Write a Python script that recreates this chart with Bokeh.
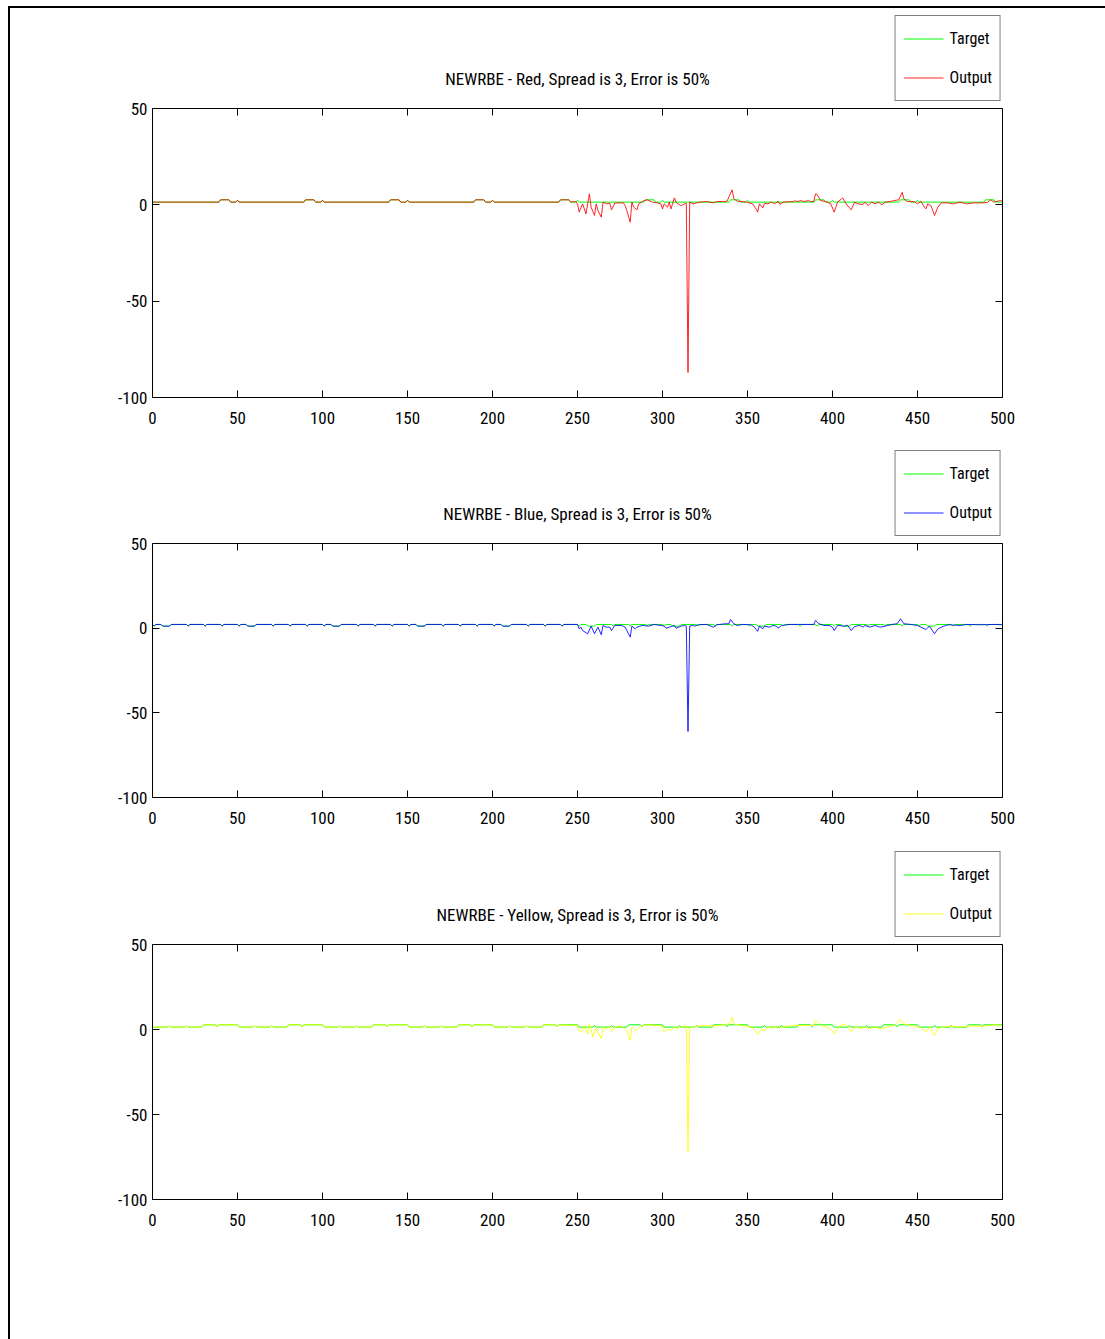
from bokeh.plotting import figure
from bokeh.models import (Range1d, LinearAxis, Div, Spacer,
                          FixedTicker, PrintfTickFormatter, Label)
from bokeh.layouts import column, row
from bokeh.embed import file_html
from bokeh.resources import INLINE

# ---------------------------------------------------------------- data
x_ticks = [0, 50, 100, 150, 200, 250, 300, 350, 400, 450, 500]
y_ticks = [-100, -50, 0, 50]

titles = [
    "NEWRBE - Red, Spread is 3, Error is 50%",
    "NEWRBE - Blue, Spread is 3, Error is 50%",
    "NEWRBE - Yellow, Spread is 3, Error is 50%",
]

# target signal of the red channel (sample, value)
red_target = [
    (0, 1.4), (39, 1.4), (40, 2.6), (45, 2.6), (46, 1.4), (49, 1.4), (50, 2.4), (51, 1.4),
    (89, 1.4), (90, 2.6), (95, 2.6), (96, 1.4), (99, 1.4), (100, 2.4), (101, 1.4),
    (139, 1.4), (140, 2.6), (145, 2.6), (146, 1.4), (149, 1.4), (150, 2.4), (151, 1.4),
    (189, 1.4), (190, 2.6), (195, 2.6), (196, 1.4), (199, 1.4), (200, 2.4), (201, 1.4),
    (239, 1.4), (240, 2.6), (245, 2.6), (246, 1.4), (249, 1.4), (250, 2.4), (251, 1.4),
    (289, 1.4), (290, 2.6), (295, 2.6), (296, 1.4), (299, 1.4), (300, 2.4), (301, 1.4),
    (339, 1.4), (340, 2.6), (345, 2.6), (346, 1.4), (349, 1.4), (350, 2.4), (351, 1.4),
    (389, 1.4), (390, 2.6), (395, 2.6), (396, 1.4), (399, 1.4), (400, 2.4), (401, 1.4),
    (439, 1.4), (440, 2.6), (445, 2.6), (446, 1.4), (449, 1.4), (450, 2.4), (451, 1.4),
    (489, 1.4), (490, 2.6), (495, 2.6), (496, 1.4), (499, 1.4), (500, 1.4),
]

# network output of the red channel on the noisy half (sample, value)
red_output_test = [
    (249, 1.7), (250, 0.5), (251, -3.8), (253, 0.5), (255, -4.7), (257, 5.7), (258, -1.2),
    (260, -5.5), (261, 0.5), (262, -3.0), (264, -6.4), (265, 1.4), (267, 0.5), (269, 0.8),
    (270, -2.6), (272, 1.0), (277, 1.0), (278, -0.4), (279, -3.0), (281, -9.0), (282, 1.4),
    (283, -1.2), (285, -2.6), (286, 0.5), (289, 2.2), (291, 2.6), (294, 1.4), (297, 1.0),
    (299, 0.5), (300, -2.1), (301, 0.5), (303, -1.2), (304, 1.4), (305, -2.1), (307, 3.6),
    (308, 1.4), (309, 0.5), (311, -0.4), (313, 0.5), (314, 0.8), (315, -87.0), (316, 1.4),
    (318, 0.5), (320, 1.0), (322, 1.4), (326, 1.7), (330, 1.0), (332, 1.7), (336, 1.7),
    (338, 1.9), (339, 4.0), (341, 7.8), (342, 3.1), (344, 1.9), (350, 1.4), (353, 0.5),
    (355, -2.1), (356, -3.8), (357, 0.5), (359, -1.6), (360, 0.8), (362, 0.5), (364, 1.4),
    (366, 0.5), (368, 1.9), (369, 0.2), (371, 1.4), (377, 1.7), (378, 2.2), (379, 1.7),
    (382, 2.2), (383, 1.7), (386, 2.2), (387, 1.7), (389, 1.7), (390, 5.7), (391, 5.3),
    (393, 2.2), (396, 1.7), (399, 0.5), (401, -3.8), (403, 1.4), (406, 3.6), (408, 0.5),
    (411, -2.6), (413, 1.4), (415, 0.5), (418, 0.2), (419, 1.4), (421, -0.4), (423, 1.4),
    (425, 0.5), (427, 1.4), (429, 0.0), (431, 1.4), (434, 1.7), (436, 2.2), (439, 2.6),
    (441, 6.5), (442, 3.1), (444, 1.7), (448, 1.7), (450, 0.5), (452, 1.9), (454, -1.2),
    (455, -2.1), (456, 0.5), (458, -0.5), (460, -5.5), (462, -1.2), (464, 1.0), (468, 1.0),
    (471, 0.5), (475, 1.4), (479, 0.5), (483, 1.0), (487, 1.0), (491, 1.2), (493, 2.6),
    (495, 1.4), (497, 1.9), (499, 2.2), (500, 1.7),
]

# target signal of the blue channel
blue_target = [
    (0, 2.2), (1, 1.2), (2, 2.2), (5, 2.2), (6, 1.2), (10, 1.2), (11, 2.2), (20, 2.2), (21, 1.2), (22, 2.2), (30, 2.2), (31, 1.2), (32, 2.2), (40, 2.2), (41, 1.2), (42, 2.2),
    (50, 2.2), (51, 1.2), (52, 2.2), (55, 2.2), (56, 1.2), (60, 1.2), (61, 2.2), (70, 2.2), (71, 1.2), (72, 2.2), (80, 2.2), (81, 1.2), (82, 2.2), (90, 2.2), (91, 1.2), (92, 2.2),
    (100, 2.2), (101, 1.2), (102, 2.2), (105, 2.2), (106, 1.2), (110, 1.2), (111, 2.2), (120, 2.2), (121, 1.2), (122, 2.2), (130, 2.2), (131, 1.2), (132, 2.2), (140, 2.2), (141, 1.2), (142, 2.2),
    (150, 2.2), (151, 1.2), (152, 2.2), (155, 2.2), (156, 1.2), (160, 1.2), (161, 2.2), (170, 2.2), (171, 1.2), (172, 2.2), (180, 2.2), (181, 1.2), (182, 2.2), (190, 2.2), (191, 1.2), (192, 2.2),
    (200, 2.2), (201, 1.2), (202, 2.2), (205, 2.2), (206, 1.2), (210, 1.2), (211, 2.2), (220, 2.2), (221, 1.2), (222, 2.2), (230, 2.2), (231, 1.2), (232, 2.2), (240, 2.2), (241, 1.2), (242, 2.2),
    (250, 2.2), (251, 1.2), (252, 2.2), (255, 2.2), (256, 1.2), (260, 1.2), (261, 2.2), (270, 2.2), (271, 1.2), (272, 2.2), (280, 2.2), (281, 1.2), (282, 2.2), (290, 2.2), (291, 1.2), (292, 2.2),
    (300, 2.2), (301, 1.2), (302, 2.2), (305, 2.2), (306, 1.2), (310, 1.2), (311, 2.2), (320, 2.2), (321, 1.2), (322, 2.2), (330, 2.2), (331, 1.2), (332, 2.2), (340, 2.2), (341, 1.2), (342, 2.2),
    (350, 2.2), (351, 1.2), (352, 2.2), (355, 2.2), (356, 1.2), (360, 1.2), (361, 2.2), (370, 2.2), (371, 1.2), (372, 2.2), (380, 2.2), (381, 1.2), (382, 2.2), (390, 2.2), (391, 1.2), (392, 2.2),
    (400, 2.2), (401, 1.2), (402, 2.2), (405, 2.2), (406, 1.2), (410, 1.2), (411, 2.2), (420, 2.2), (421, 1.2), (422, 2.2), (430, 2.2), (431, 1.2), (432, 2.2), (440, 2.2), (441, 1.2), (442, 2.2),
    (450, 2.2), (451, 1.2), (452, 2.2), (455, 2.2), (456, 1.2), (460, 1.2), (461, 2.2), (470, 2.2), (471, 1.2), (472, 2.2), (480, 2.2), (481, 1.2), (482, 2.2), (490, 2.2), (491, 1.2), (492, 2.2),
    (500, 2.2),
]

blue_output_test = [
    (250, 2.2), (251, -0.4), (252, 0.6), (253, -1.4), (256, -3.3), (258, 1.2), (260, -3.3),
    (262, 0.6), (264, -3.9), (265, 1.6), (267, 0.6), (269, 0.6), (270, -1.4), (272, 1.6),
    (276, 1.6), (278, 0.6), (279, -1.4), (281, -5.3), (282, 1.2), (284, -0.4), (285, 0.6),
    (288, 1.6), (292, 1.2), (295, 2.2), (299, 1.6), (301, 1.2), (302, 0.0), (304, 0.6),
    (307, 1.6), (308, 0.0), (311, 1.2), (313, 1.6), (314, 1.2), (315, -61.0), (316, 1.2),
    (318, 1.6), (319, 1.2), (321, 2.0), (326, 2.2), (330, 0.6), (332, 2.0), (337, 2.6),
    (339, 2.6), (340, 5.1), (342, 2.6), (344, 1.6), (347, 2.2), (352, 2.0), (354, 0.6),
    (356, -1.9), (357, 1.2), (359, -0.4), (360, 1.2), (363, 0.6), (365, 1.6), (367, 1.2),
    (368, 0.0), (370, 1.6), (375, 2.2), (389, 2.2), (390, 4.6), (392, 2.6), (395, 1.6),
    (398, 1.6), (400, 0.6), (401, -1.4), (403, 1.6), (407, 1.2), (409, 1.6), (411, -1.4),
    (413, 1.0), (416, 1.6), (418, 0.6), (419, 1.6), (422, 0.6), (425, 1.6), (428, 0.6),
    (431, 1.2), (435, 2.2), (438, 2.6), (440, 5.5), (442, 2.6), (446, 2.2), (450, 1.6),
    (452, 0.6), (455, -0.8), (457, 1.2), (460, -3.3), (462, -0.4), (465, 1.0), (468, 2.0),
    (475, 1.6), (479, 2.2), (487, 2.0), (495, 2.2), (500, 2.0),
]

# target signal of the yellow channel
yellow_target = [
    (0, 1.4), (9, 1.4), (10, 2.4), (11, 1.4), (19, 1.4), (20, 2.4), (21, 1.4), (29, 1.4), (30, 2.75), (37, 2.75), (38, 1.6), (39, 2.75), (50, 2.75),
    (51, 1.4), (59, 1.4), (60, 2.4), (61, 1.4), (69, 1.4), (70, 2.4), (71, 1.4), (79, 1.4), (80, 2.75), (87, 2.75), (88, 1.6), (89, 2.75), (100, 2.75),
    (101, 1.4), (109, 1.4), (110, 2.4), (111, 1.4), (119, 1.4), (120, 2.4), (121, 1.4), (129, 1.4), (130, 2.75), (137, 2.75), (138, 1.6), (139, 2.75), (150, 2.75),
    (151, 1.4), (159, 1.4), (160, 2.4), (161, 1.4), (169, 1.4), (170, 2.4), (171, 1.4), (179, 1.4), (180, 2.75), (187, 2.75), (188, 1.6), (189, 2.75), (200, 2.75),
    (201, 1.4), (209, 1.4), (210, 2.4), (211, 1.4), (219, 1.4), (220, 2.4), (221, 1.4), (229, 1.4), (230, 2.75), (237, 2.75), (238, 1.6), (239, 2.75), (250, 2.75),
    (251, 1.4), (259, 1.4), (260, 2.4), (261, 1.4), (269, 1.4), (270, 2.4), (271, 1.4), (279, 1.4), (280, 2.75), (287, 2.75), (288, 1.6), (289, 2.75), (300, 2.75),
    (301, 1.4), (309, 1.4), (310, 2.4), (311, 1.4), (319, 1.4), (320, 2.4), (321, 1.4), (329, 1.4), (330, 2.75), (337, 2.75), (338, 1.6), (339, 2.75), (350, 2.75),
    (351, 1.4), (359, 1.4), (360, 2.4), (361, 1.4), (369, 1.4), (370, 2.4), (371, 1.4), (379, 1.4), (380, 2.75), (387, 2.75), (388, 1.6), (389, 2.75), (400, 2.75),
    (401, 1.4), (409, 1.4), (410, 2.4), (411, 1.4), (419, 1.4), (420, 2.4), (421, 1.4), (429, 1.4), (430, 2.75), (437, 2.75), (438, 1.6), (439, 2.75), (450, 2.75),
    (451, 1.4), (459, 1.4), (460, 2.4), (461, 1.4), (469, 1.4), (470, 2.4), (471, 1.4), (479, 1.4), (480, 2.75), (487, 2.75), (488, 1.6), (489, 2.75), (500, 2.75),
]

yellow_output_test = [
    (250, 2.35), (251, -0.6), (252, -1.6), (254, 2.35), (256, -2.5), (257, 3.3), (258, 0.4),
    (259, -4.5), (261, 1.4), (262, -1.6), (264, -5.5), (265, 1.4), (267, 0.4), (269, 2.0),
    (270, -1.2), (272, 1.4), (276, 2.0), (279, -0.6), (281, -6.5), (282, 1.4), (284, -0.6),
    (285, 0.0), (287, 2.0), (291, 2.75), (297, 2.35), (300, 2.0), (301, -1.6), (303, 0.4),
    (305, -0.6), (307, 1.4), (309, 0.4), (311, 1.4), (314, 2.0), (315, -72.0), (316, 0.8),
    (318, 1.4), (320, 2.0), (326, 2.35), (330, 2.0), (336, 2.75), (339, 3.3), (341, 7.3),
    (342, 3.3), (346, 2.35), (353, 1.4), (355, -1.6), (356, -3.1), (358, 0.4), (360, -0.6),
    (362, 1.4), (365, 0.8), (368, 2.0), (370, 0.8), (373, 2.0), (377, 2.35), (389, 2.35),
    (390, 5.3), (391, 4.7), (393, 2.35), (397, 1.4), (399, 0.4), (401, -2.5), (404, 2.0),
    (407, 3.3), (409, 2.0), (411, -1.6), (413, 1.4), (417, 0.8), (419, 1.4), (422, 0.4),
    (425, 1.4), (428, 0.4), (432, 1.4), (436, 2.35), (440, 5.9), (442, 3.3), (446, 2.35),
    (451, 1.4), (453, 0.4), (455, -1.6), (457, 1.4), (460, -3.5), (462, 0.4), (465, 1.4),
    (468, 2.0), (475, 1.4), (481, 2.0), (489, 2.0), (495, 2.75), (500, 2.35),
]

# ---------------------------------------------------------------- styling
FONT = "Roboto Condensed, Liberation Sans Narrow, DejaVu Sans Condensed, sans-serif"
TARGET_COLOR = "#00ff00"
Y_MIN, Y_MAX = -100, 50


def split(points):
    return [p[0] for p in points], [p[1] for p in points]


def style_axis(ax, show_labels):
    ax.axis_line_color = "black"
    ax.axis_line_width = 1
    ax.major_tick_line_color = "black"
    ax.major_tick_in = 7
    ax.major_tick_out = 0
    ax.minor_tick_line_color = None
    if show_labels:
        ax.major_label_text_font = FONT
        ax.major_label_text_font_size = "17px"
        ax.major_label_text_color = "black"
        ax.formatter = PrintfTickFormatter(format="%d")
    else:
        ax.major_label_text_font_size = "0px"
        ax.major_label_text_color = None
        ax.major_label_standoff = 0


def panel(title, target, output, color, height, top, head_px, box_px, bottom):
    """top: figure top to frame top; head_px: figure top to the 50-line;
    box_px: pixel height of the -100..50 axes box."""
    per_px = (Y_MAX - Y_MIN) / box_px
    # the frame reaches above the axes box so the legend and title fit in it
    y_top = Y_MAX + (head_px - top) * per_px

    p = figure(width=1095, height=height,
               x_range=Range1d(0, 500), y_range=Range1d(Y_MIN, y_top),
               output_backend="svg", toolbar_location=None,
               min_border_left=142, min_border_right=103,
               min_border_top=top, min_border_bottom=bottom,
               lod_threshold=None)
    p.grid.visible = False
    p.outline_line_color = None
    p.background_fill_color = "white"
    p.border_fill_color = "white"

    tx, ty = split(target)
    ox, oy = split(output)
    p.line(tx, ty, color=TARGET_COLOR, line_width=1, legend_label="Target")
    p.line(ox, oy, color=color, line_width=1, line_alpha=0.85, legend_label="Output")

    xa = p.xaxis[0]
    ya = p.yaxis[0]
    xa.ticker = FixedTicker(ticks=x_ticks)
    ya.ticker = FixedTicker(ticks=y_ticks)
    style_axis(xa, True)
    style_axis(ya, True)
    ya.bounds = (Y_MIN, Y_MAX)
    xa.major_label_standoff = 14
    ya.major_label_standoff = 5

    # upper edge of the axes box, ticks pointing down
    top_ax = LinearAxis(ticker=FixedTicker(ticks=x_ticks), fixed_location=Y_MAX)
    right_ax = LinearAxis(ticker=FixedTicker(ticks=y_ticks), bounds=(Y_MIN, Y_MAX))
    style_axis(top_ax, False)
    style_axis(right_ax, False)
    p.add_layout(top_ax, "above")
    p.add_layout(right_ax, "right")

    p.add_layout(Label(x=250, y=Y_MAX + 30 * per_px, text=title,
                       text_align="center", text_baseline="middle",
                       text_font=FONT, text_font_size="17px",
                       text_color="black"))

    legend = p.legend[0]
    legend.location = "top_right"
    legend.label_text_font = FONT
    legend.label_text_font_size = "16px"
    legend.label_text_color = "black"
    legend.border_line_color = "black"
    legend.border_line_width = 1
    legend.background_fill_color = "white"
    legend.background_fill_alpha = 1.0
    legend.glyph_width = 40
    legend.glyph_height = 29
    legend.label_height = 29
    legend.label_standoff = 6
    legend.spacing = 10
    legend.padding = 8
    legend.margin = 1
    return p


red_out = [pt for pt in red_target if pt[0] < 249] + red_output_test
blue_out = [pt for pt in blue_target if pt[0] < 250] + blue_output_test
yellow_out = [pt for pt in yellow_target if pt[0] < 250] + yellow_output_test

p1 = panel(titles[0], red_target, red_out, "#ff0000", 432, 6, 100, 289, 43)
p2 = panel(titles[1], blue_target, blue_out, "#0000ff", 400, 9, 103, 254, 43)
p3 = panel(titles[2], yellow_target, yellow_out, "#ffff00", 499, 10, 104, 255, 140)

# page frame: a rule along the top and one down the left side
top_rule = Div(text="", width=1097, height=2, margin=0,
               styles={"background-color": "black"})
left_rule = Div(text="", width=2, height=1331, margin=0,
                styles={"background-color": "black"})

layout = column(
    Spacer(width=1105, height=6, margin=0),
    row(Spacer(width=8, height=2, margin=0), top_rule, spacing=0, margin=0),
    row(Spacer(width=8, height=1331, margin=0), left_rule,
        column(p1, p2, p3, spacing=0, margin=0), spacing=0, margin=0),
    spacing=0, margin=0,
)

open("out.html", "w").write(file_html(layout, INLINE))
